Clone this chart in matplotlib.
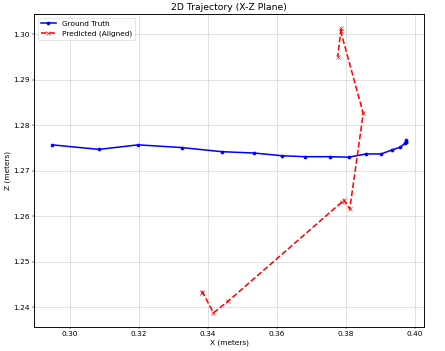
import matplotlib
matplotlib.use("Agg")
import matplotlib.pyplot as plt

# ground truth trajectory (x, z)
gt_x = [0.2949, 0.3085, 0.3199, 0.3325, 0.3441, 0.3535, 0.3617, 0.3682, 0.3754,
        0.3809, 0.3860, 0.3903, 0.3935, 0.3959, 0.3971, 0.3975, 0.3976, 0.3975]
gt_z = [1.2757, 1.2747, 1.2757, 1.2751, 1.2742, 1.2739, 1.2733, 1.2731, 1.2731,
        1.2730, 1.2737, 1.2737, 1.2746, 1.2752, 1.2760, 1.2764, 1.2768, 1.2763]

# predicted (aligned) trajectory
pred_x = [0.3384, 0.3385, 0.3417, 0.3460, 0.3790, 0.3795, 0.3812, 0.3851,
          0.3786, 0.3787, 0.3777]
pred_z = [1.2432, 1.2434, 1.2388, 1.2414, 1.2632, 1.2636, 1.2616, 1.2826,
          1.3006, 1.3013, 1.2950]

plt.rcParams['font.size'] = 12

fig, ax = plt.subplots(figsize=(10, 7.888), dpi=44.5)
fig.subplots_adjust(left=0.077, right=0.953, bottom=0.068, top=0.960)

ax.plot(gt_x, gt_z, 'b-', marker='o', markersize=5, linewidth=2.5, label='Ground Truth')
ax.plot(pred_x, pred_z, 'r--', marker='x', markersize=7, linewidth=2.5, label='Predicted (Aligned)')

ax.set_title('2D Trajectory (X-Z Plane)', fontsize=15)
ax.set_xlabel('X (meters)')
ax.set_ylabel('Z (meters)')
ax.grid(True, linewidth=1.5, alpha=0.4)
for s in ax.spines.values():
    s.set_linewidth(1.5)
ax.legend(loc='upper left')

fig.savefig('out.png', dpi=44.5)
